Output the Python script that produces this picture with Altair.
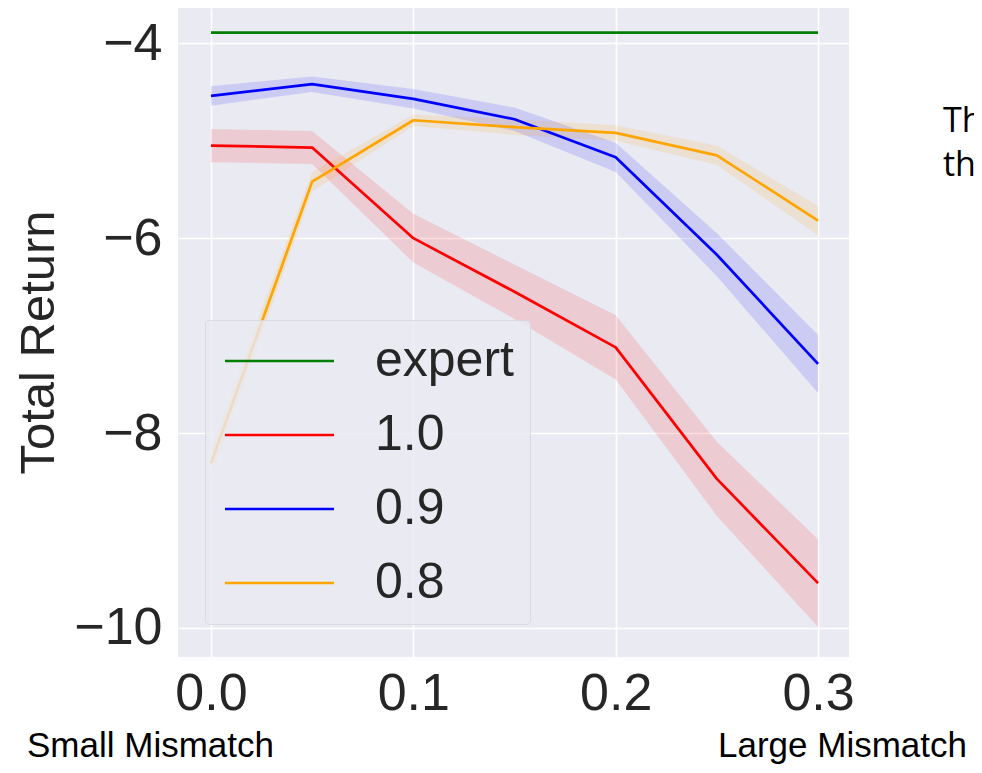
import altair as alt
import pandas as pd

# ---- data ----
x_vals = [0.0, 0.05, 0.10, 0.15, 0.20, 0.25, 0.30]
series_names = ["expert", "1.0", "0.9", "0.8"]
series_colors = ["green", "red", "blue", "orange"]

expert_mean = [-3.89, -3.89, -3.89, -3.89, -3.89, -3.89, -3.89]
r10_mean = [-5.05, -5.07, -6.00, -6.55, -7.12, -8.47, -9.54]
r10_half = [0.17, 0.17, 0.25, 0.28, 0.33, 0.38, 0.45]
r09_mean = [-4.54, -4.42, -4.57, -4.78, -5.17, -6.17, -7.29]
r09_half = [0.10, 0.08, 0.10, 0.12, 0.15, 0.22, 0.30]
r08_mean = [-8.31, -5.42, -4.79, -4.86, -4.92, -5.15, -5.82]
r08_half = [0.15, 0.10, 0.06, 0.08, 0.08, 0.10, 0.15]

x_ticks = [0.0, 0.1, 0.2, 0.3]
y_ticks = [-10, -8, -6, -4]
y_title = "Total Return"
bottom_left_text = ["Small Mismatch"]
bottom_right_text = ["Large Mismatch"]
side_text = ["Th", "the"]

rows = []
for name, mean, half in [
    ("expert", expert_mean, [0.0] * len(x_vals)),
    ("1.0", r10_mean, r10_half),
    ("0.9", r09_mean, r09_half),
    ("0.8", r08_mean, r08_half),
]:
    for xv, m, h in zip(x_vals, mean, half):
        rows.append({"series": name, "x": xv, "mean": m, "lo": m - h, "hi": m + h})
df = pd.DataFrame(rows)

FONT = "Liberation Sans"
TXT = "#262626"

x_scale = alt.Scale(domain=[-0.0163, 0.3153], nice=False, zero=False)
y_scale = alt.Scale(domain=[-10.298, -3.638], nice=False, zero=False)

x_axis = alt.Axis(values=x_ticks, format=".1f", title=None, labelPadding=11)
y_axis = alt.Axis(
    values=y_ticks, format="d", title=y_title, labelPadding=16,
    titleFont=FONT, titleFontSize=49, titleFontWeight="normal", titleColor=TXT,
    titleX=-140, titleY=334, titleAlign="center", titleBaseline="middle", titleAngle=270,
)

base = alt.Chart(df)

band_layers = []
for name, col in zip(series_names[1:], series_colors[1:]):
    band_layers.append(
        base.transform_filter(alt.datum.series == name)
        .mark_area(color=col, opacity=0.13)
        .encode(
            x=alt.X("x:Q", scale=x_scale, axis=x_axis),
            y=alt.Y("lo:Q", scale=y_scale, axis=y_axis),
            y2="hi:Q",
        )
    )

lines = base.mark_line(strokeWidth=2.7, strokeJoin="round").encode(
    x=alt.X("x:Q", scale=x_scale, axis=x_axis),
    y=alt.Y("mean:Q", scale=y_scale, axis=y_axis),
    color=alt.Color(
        "series:N",
        scale=alt.Scale(domain=series_names, range=series_colors),
        legend=alt.Legend(
            title=None, orient="none", legendX=27, legendY=312,
            symbolType="M-2.1,0L8.8,0", symbolSize=400, symbolStrokeWidth=2.7,
            symbolOpacity=1,
            labelFont=FONT, labelFontSize=50, labelColor=TXT, labelOffset=104,
            rowPadding=24, padding=16,
            fillColor="rgba(234,234,242,0.8)", strokeColor="rgba(214,214,222,0.8)",
            cornerRadius=4,
        ),
    ),
)

t_left = alt.Chart(pd.DataFrame({"t": bottom_left_text})).mark_text(
    font=FONT, fontSize=35, color="black", align="left", baseline="alphabetic"
).encode(text="t:N", x=alt.value(-151), y=alt.value(749))

t_right = alt.Chart(pd.DataFrame({"t": bottom_right_text})).mark_text(
    font=FONT, fontSize=35, color="black", align="left", baseline="alphabetic"
).encode(text="t:N", x=alt.value(540), y=alt.value(749))

t_side1 = alt.Chart(pd.DataFrame({"t": side_text[:1]})).mark_text(
    font="Open Sans", fontSize=34, color="black", align="left", baseline="alphabetic"
).encode(text="t:N", x=alt.value(765), y=alt.value(124))

t_side2 = alt.Chart(pd.DataFrame({"t": side_text[1:]})).mark_text(
    font="Open Sans", fontSize=34, color="black", align="left", baseline="alphabetic"
).encode(text="t:N", x=alt.value(765), y=alt.value(168))

chart = (
    alt.layer(*band_layers, lines, t_left, t_right, t_side1, t_side2)
    .properties(
        width=671, height=649,
        autosize=alt.AutoSizeParams(type="none"),
        padding={"left": 170, "top": 0, "right": 125, "bottom": 108},
    )
    .configure_view(fill="#EAEAF2", stroke=None)
    .configure_axis(
        grid=True, gridColor="white", gridWidth=1.6, domain=False, ticks=False, tickSize=0,
        labelFont=FONT, labelFontSize=52, labelColor=TXT,
    )
)

chart.save("out.html", embed_options={"renderer": "svg", "actions": False})
